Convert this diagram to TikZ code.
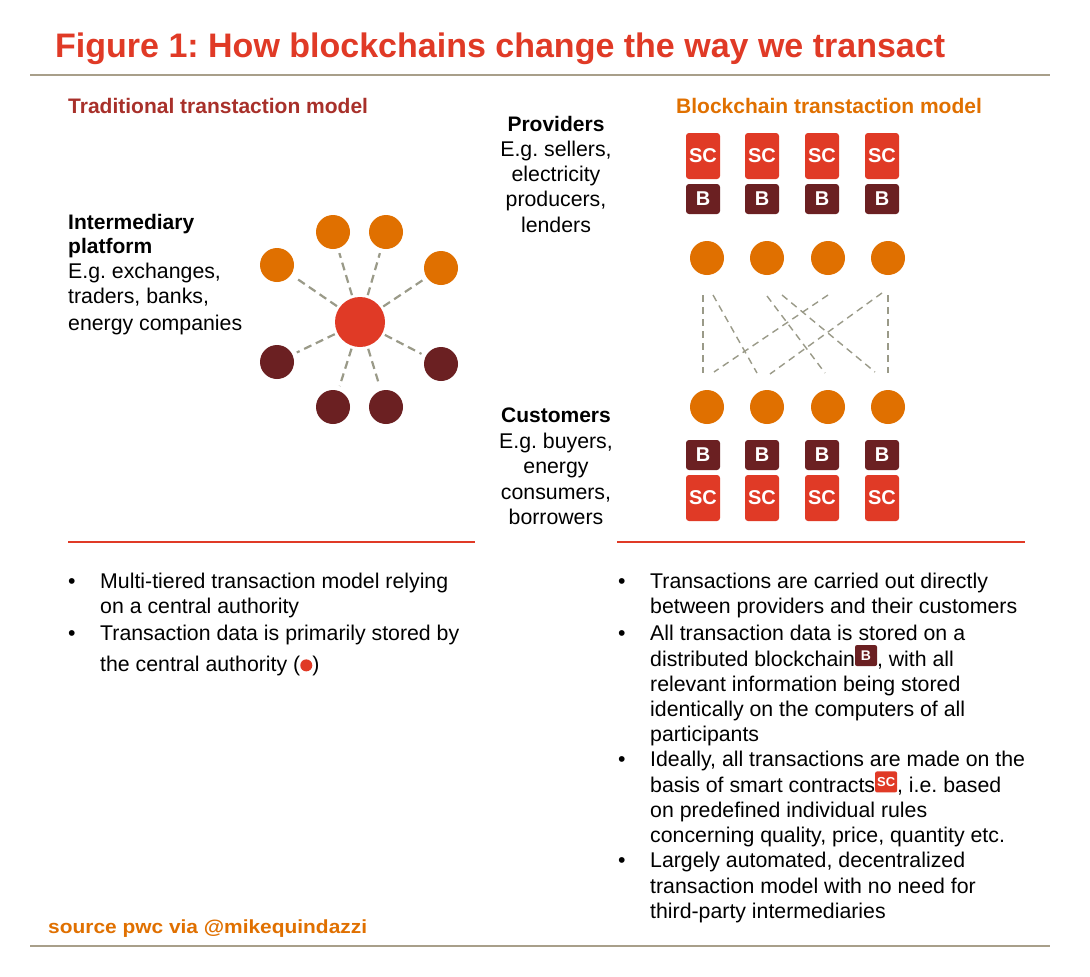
\documentclass[tikz,border=0pt]{standalone}
\usepackage{fontspec}
\setmainfont{Liberation Sans}
\frenchspacing
\definecolor{pred}{HTML}{E03A26}
\definecolor{porange}{HTML}{E07000}
\definecolor{pdark}{HTML}{6B2022}
\definecolor{pline}{HTML}{A89F8A}
\definecolor{pdash}{HTML}{9A9A88}
\definecolor{pbrown}{HTML}{A8302A}
\newcommand\biconx{\tikz[baseline=-0.5ex]\node[rounded corners=2,fill=pdark,minimum width=22pt,minimum height=21pt,inner sep=0,text=white,font=\fontsize{14}{14}\selectfont\bfseries]{B};}
\newcommand\sciconx{\tikz[baseline=-0.5ex]\node[rounded corners=2,fill=pred,minimum width=22pt,minimum height=21pt,inner sep=0,text=white,font=\fontsize{13}{13}\selectfont\bfseries]{SC};}
\newcommand\doticonx{\tikz[baseline=-0.5ex]\node[circle,fill=pred,minimum size=12pt,inner sep=0]{};}
\begin{document}
\begin{tikzpicture}[x=1pt,y=-1pt]
\tikzset{
 txt/.style={anchor=base west,inner sep=0,font=\fontsize{21.3}{23}\selectfont},
 ctxt/.style={anchor=base,inner sep=0,font=\fontsize{21.3}{23}\selectfont},
 dot/.style={circle,fill=#1,minimum size=34,inner sep=0},
 scbox/.style={rounded corners=3,fill=pred,minimum width=34,minimum height=46,inner sep=0,text=white,font=\fontsize{20}{20}\selectfont\bfseries},
 bbox/.style={rounded corners=3,fill=pdark,minimum width=34,minimum height=30,inner sep=0,text=white,font=\fontsize{20}{20}\selectfont\bfseries},
 dsh/.style={pdash,line width=1.4,dash pattern=on 7 off 5},
 ldsh/.style={pdash,line width=2.2,dash pattern=on 8 off 5,shorten <=28,shorten >=22},
}
\useasboundingbox (0,0) rectangle (1090,977);
\fill[white] (0,0) rectangle (1090,977);
\node[anchor=base west,inner sep=0,text=pred,font=\fontsize{34}{36}\selectfont\bfseries] (title) at (55,57) {Figure 1: How blockchains change the way we transact};
\draw[pline,line width=1.5] (30,75) coordinate (t1) -- (1050,75) coordinate (t2);
\draw[pline,line width=1.5] (30,946) coordinate (b1) -- (1050,946) coordinate (b2);
\draw[pred,line width=1.2] (68,542) coordinate (r1) -- (475,542) coordinate (r2);
\draw[pred,line width=1.2] (617,542) coordinate (r3) -- (1025,542) coordinate (r4);

\node[txt,text=pbrown,font=\fontsize{21}{23}\selectfont\bfseries] (lh) at (68,113) {Traditional transtaction model};
\node[txt,text=porange,font=\fontsize{21}{23}\selectfont\bfseries] (rh) at (676,113) {Blockchain transtaction model};

\node[txt,font=\fontsize{21}{23}\selectfont\bfseries] (ip1) at (68,229) {Intermediary};
\node[txt,font=\fontsize{21}{23}\selectfont\bfseries] (ip2) at (68,253) {platform};
\node[txt] (ip3) at (68,278) {E.g. exchanges,};
\node[txt] (ip4) at (68,303) {traders, banks,};
\node[txt] (ip5) at (68,330) {energy companies};

\node[dot=pred,minimum size=50] (hub) at (360,322) {};
\foreach \n/\x/\y in {o1/277/265,o2/333/232,o3/386/232,o4/441/268}
  \node[dot=porange] (\n) at (\x,\y) {};
\foreach \n/\x/\y in {d1/277/362,d2/333/407,d3/386/407,d4/441/364}
  \node[dot=pdark] (\n) at (\x,\y) {};
\foreach \n in {o1,o2,o3,o4,d1,d2,d3,d4}
  \draw[ldsh] (hub.center) -- (\n.center);

\node[ctxt,font=\fontsize{21}{23}\selectfont\bfseries] (pv1) at (556,131) {Providers};
\node[ctxt] (pv2) at (556,156) {E.g. sellers,};
\node[ctxt] (pv3) at (556,181) {electricity};
\node[ctxt] (pv4) at (556,206) {producers,};
\node[ctxt] (pv5) at (556,232) {lenders};
\node[ctxt,font=\fontsize{21}{23}\selectfont\bfseries] (cu1) at (556,422) {Customers};
\node[ctxt] (cu2) at (556,448) {E.g. buyers,};
\node[ctxt] (cu3) at (556,473) {energy};
\node[ctxt] (cu4) at (556,499) {consumers,};
\node[ctxt] (cu5) at (556,524) {borrowers};

\foreach \i/\x/\cx in {1/703/707,2/762/767,3/822/828,4/882/888}{
  \node[scbox] (sct\i) at (\x,156) {SC};
  \node[bbox] (bt\i) at (\x,199) {B};
  \node[dot=porange] (pt\i) at (\cx,258) {};
  \node[dot=porange] (pb\i) at (\cx,407) {};
  \node[bbox] (bb\i) at (\x,455) {B};
  \node[scbox] (scb\i) at (\x,498) {SC};
}
\coordinate (a1) at (703,295); \coordinate (a2) at (703,373);
\draw[dsh] (a1) -- (a2);
\coordinate (a3) at (888,295); \coordinate (a4) at (888,373);
\draw[dsh] (a3) -- (a4);
\coordinate (c1) at (713,295); \coordinate (c2) at (757,373); \draw[dsh] (c1) -- (c2);
\coordinate (c3) at (767,296); \coordinate (c4) at (825,373); \draw[dsh] (c3) -- (c4);
\coordinate (c5) at (782,295); \coordinate (c6) at (875,372); \draw[dsh] (c5) -- (c6);
\coordinate (c7) at (828,295); \coordinate (c8) at (714,372); \draw[dsh] (c7) -- (c8);
\coordinate (c9) at (882,293); \coordinate (c10) at (770,374); \draw[dsh] (c9) -- (c10);

\foreach \y in {588,640}
  \node[txt] at (68,\y) {•};
\node[txt] (l1) at (100,588) {Multi-tiered transaction model relying};
\node[txt] (l2) at (100,613) {on a central authority};
\node[txt] (l3) at (100,640) {Transaction data is primarily stored by};
\node[txt] (l4) at (100,671) {the central authority (\doticonx)};

\foreach \y in {588,640,766,867}
  \node[txt] at (618,\y) {•};
\node[txt] (q1) at (650,588) {Transactions are carried out directly};
\node[txt] (q2) at (650,613) {between providers and their customers};
\node[txt] (q3) at (650,640) {All transaction data is stored on a};
\node[txt] (q4) at (650,666) {distributed blockchain\biconx, with all};
\node[txt] (q5) at (650,691) {relevant information being stored};
\node[txt] (q6) at (650,716) {identically on the computers of all};
\node[txt] (q7) at (650,741) {participants};
\node[txt] (q8) at (650,766) {Ideally, all transactions are made on the};
\node[txt] (q9) at (650,792) {basis of smart contracts\sciconx, i.e. based};
\node[txt] (q10) at (650,817) {on predefined individual rules};
\node[txt] (q11) at (650,842) {concerning quality, price, quantity etc.};
\node[txt] (q12) at (650,867) {Largely automated, decentralized};
\node[txt] (q13) at (650,893) {transaction model with no need for};
\node[txt] (q14) at (650,918) {third-party intermediaries};

\node[anchor=base west,inner sep=0,text=porange,font=\fontsize{19}{20}\selectfont\bfseries,xscale=1.1] (src) at (48,933) {source pwc via @mikequindazzi};
\end{tikzpicture}
\end{document}
